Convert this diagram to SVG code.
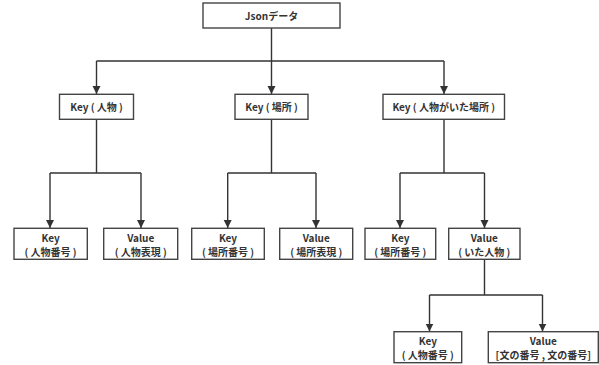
<svg xmlns="http://www.w3.org/2000/svg" width="599" height="365" viewBox="0 0 599 365">
<style>
rect.b{fill:#fff;stroke:#444;stroke-width:1.4}
text{font-family:"Noto Sans CJK JP","Noto Sans",sans-serif;font-weight:bold;font-size:10px;fill:#333;text-anchor:middle}
.c path{fill:none;stroke:#333;stroke-width:1.4}
</style>
<defs>
<marker id="a" viewBox="0 0 8 10" refX="8" refY="5" markerWidth="8" markerHeight="10" markerUnits="userSpaceOnUse" orient="auto">
<path d="M0,1 L8,5 L0,9 Z" fill="#333"/>
</marker>
</defs>
<rect width="599" height="365" fill="#fff"/>
<g class="c">
<path d="M271.5,28 V61 M96.5,61 H444"/>
<path d="M96.5,61 V94" marker-end="url(#a)"/>
<path d="M271.5,61 V94" marker-end="url(#a)"/>
<path d="M444,61 V94" marker-end="url(#a)"/>
<path d="M96.5,119 V173 M50,173 H141"/>
<path d="M50,173 V228" marker-end="url(#a)"/>
<path d="M141,173 V228" marker-end="url(#a)"/>
<path d="M271.5,119 V173 M227.7,173 H316"/>
<path d="M227.7,173 V228" marker-end="url(#a)"/>
<path d="M316,173 V228" marker-end="url(#a)"/>
<path d="M444,119 V173 M400,173 H484.5"/>
<path d="M400,173 V228" marker-end="url(#a)"/>
<path d="M484.5,173 V228" marker-end="url(#a)"/>
<path d="M484.5,259 V295 M429.5,295 H542.5"/>
<path d="M429.5,295 V331.5" marker-end="url(#a)"/>
<path d="M542.5,295 V331.5" marker-end="url(#a)"/>
</g>
<g id="root"><rect class="b" x="203" y="3" width="137" height="25"/><text x="271.5" y="19.5">Jsonデータ</text></g>
<g id="k1"><rect class="b" x="59.5" y="94.3" width="74" height="25"/><text x="96.5" y="110.5">Key ( 人物 )</text></g>
<g id="k2"><rect class="b" x="235" y="94.3" width="73" height="25"/><text x="271.5" y="110.5">Key ( 場所 )</text></g>
<g id="k3"><rect class="b" x="383" y="94.3" width="121.5" height="25"/><text x="443.7" y="110.5">Key ( 人物がいた場所 )</text></g>
<g id="k1k"><rect class="b" x="14" y="228.3" width="73.3" height="31"/><text x="50.6" y="241.5">Key</text><text x="50.6" y="255.5">( 人物番号 )</text></g>
<g id="k1v"><rect class="b" x="103.7" y="228.3" width="74" height="31"/><text x="140.7" y="241.5">Value</text><text x="140.7" y="255.5">( 人物表現 )</text></g>
<g id="k2k"><rect class="b" x="191.7" y="228.3" width="72.6" height="31"/><text x="228" y="241.5">Key</text><text x="228" y="255.5">( 場所番号 )</text></g>
<g id="k2v"><rect class="b" x="279.7" y="228.3" width="73" height="31"/><text x="316.2" y="241.5">Value</text><text x="316.2" y="255.5">( 場所表現 )</text></g>
<g id="k3k"><rect class="b" x="365" y="228.3" width="70.7" height="31"/><text x="400.3" y="241.5">Key</text><text x="400.3" y="255.5">( 場所番号 )</text></g>
<g id="k3v"><rect class="b" x="448.7" y="228.3" width="71.3" height="31"/><text x="484.3" y="241.5">Value</text><text x="484.3" y="255.5">( いた人物 )</text></g>
<g id="k4k"><rect class="b" x="394" y="331.7" width="67.7" height="31"/><text x="427.8" y="345">Key</text><text x="427.8" y="359">( 人物番号 )</text></g>
<g id="k4v"><rect class="b" x="488.3" y="331.7" width="110" height="31"/><text x="543.3" y="345">Value</text><text x="543.3" y="359">[文の番号 , 文の番号]</text></g>
</svg>
